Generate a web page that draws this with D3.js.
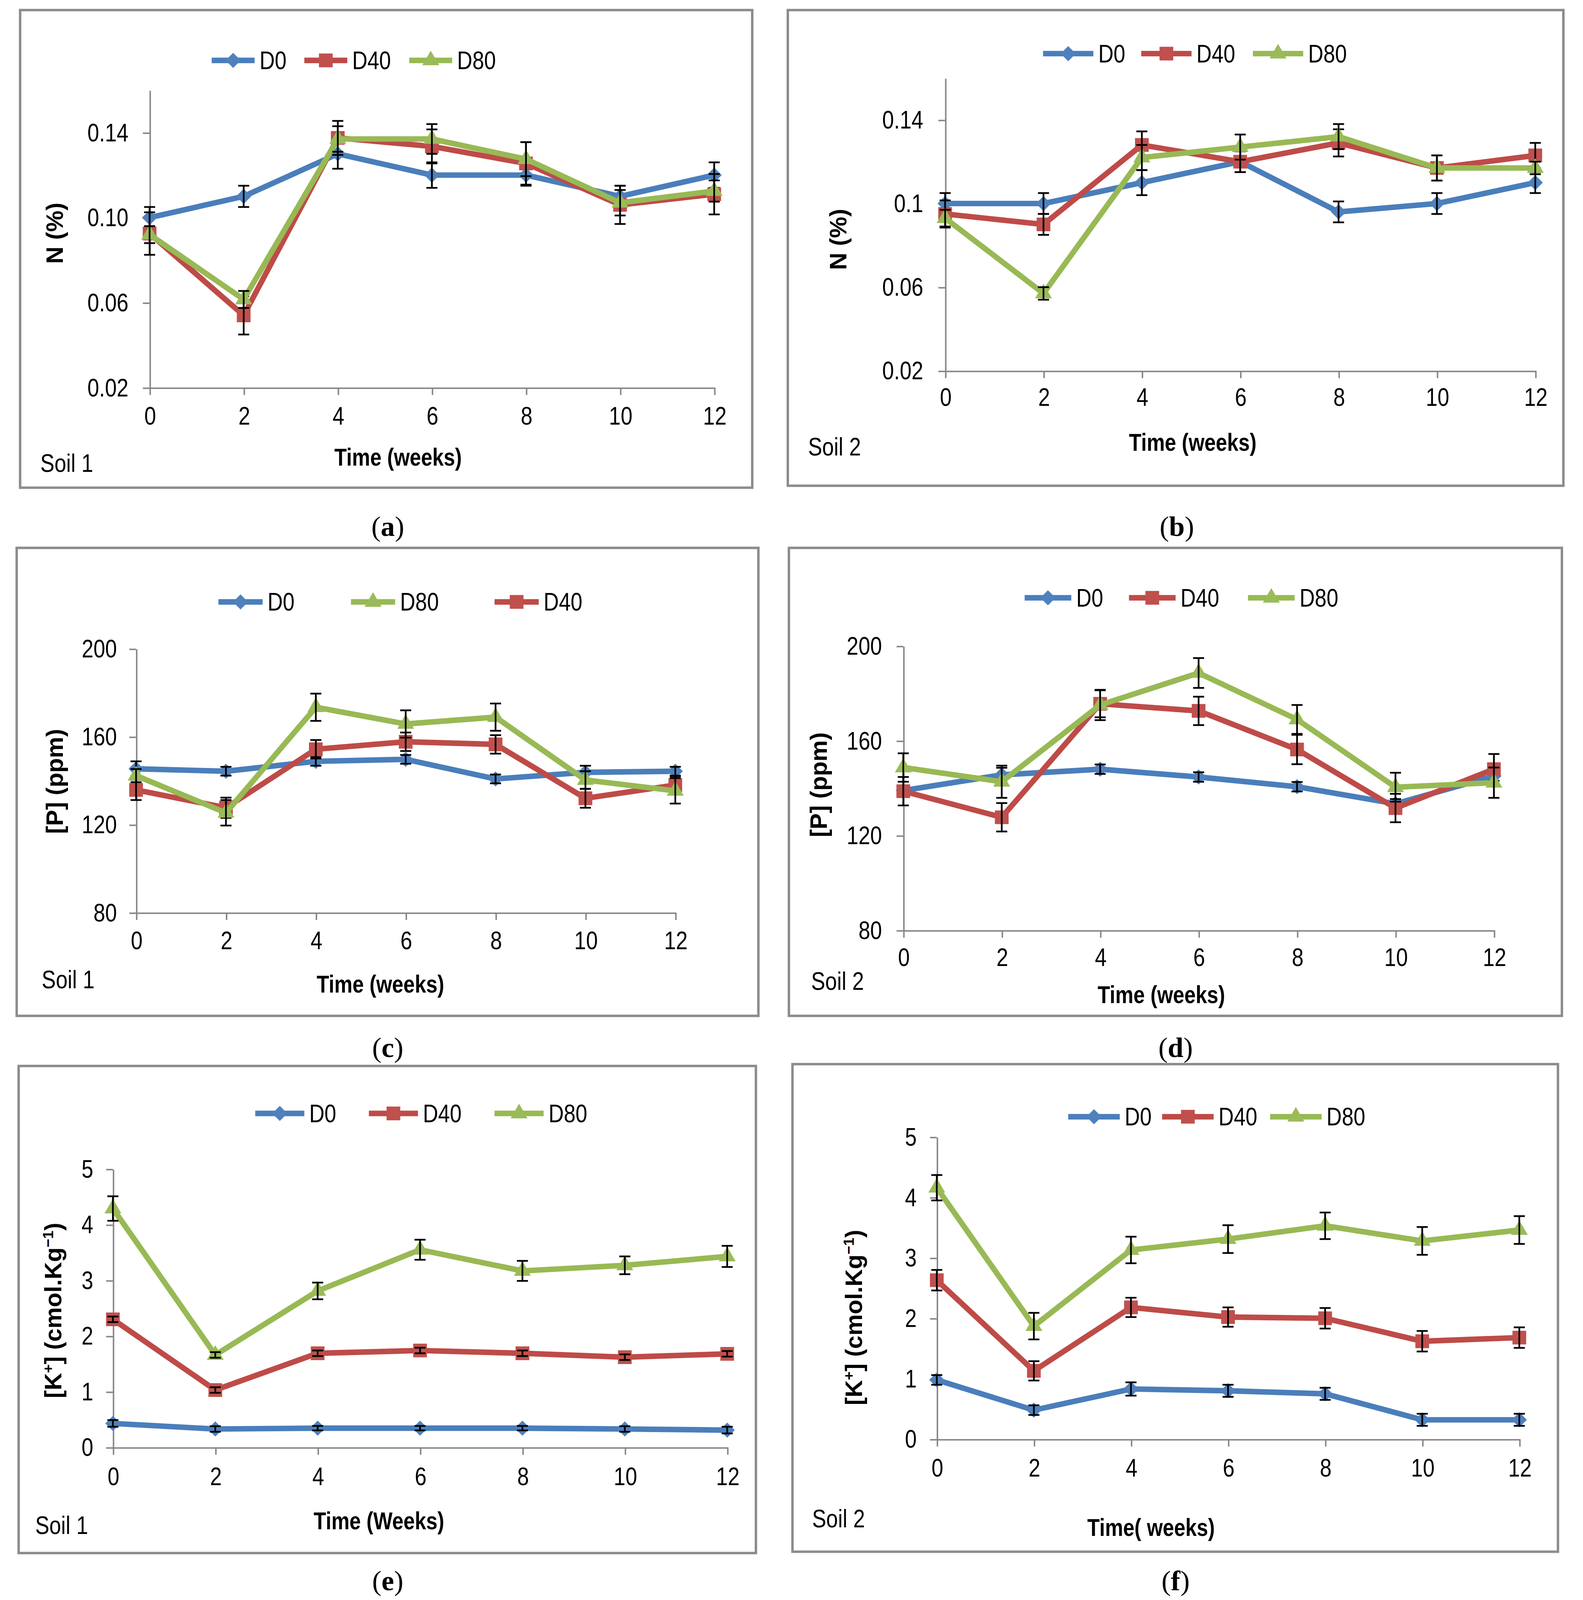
<!DOCTYPE html>
<html>
<head>
<meta charset="utf-8">
<title>N, P and K over time</title>
<script src="https://cdn.jsdelivr.net/npm/d3@7"></script>
<style>
  html, body { margin: 0; padding: 0; background: #fff; overflow: hidden; }
  svg { display: block; }
</style>
</head>
<body>
<svg id="fig"></svg>
<script>
'use strict';

// ---- data ----
var weeks = [0, 2, 4, 6, 8, 10, 12];

// (a) N, soil 1
var nS1D0 = [0.100, 0.110, 0.130, 0.120, 0.120, 0.110, 0.120];
var nS1D0Err = [0.005, 0.005, 0.007, 0.006, 0.005, 0.005, 0.006];
var nS1D40 = [0.0925, 0.054, 0.1375, 0.1335, 0.1255, 0.106, 0.111];
var nS1D40Err = [0.010, 0.009, 0.008, 0.008, 0.010, 0.009, 0.0095];
var nS1D80 = [0.092, 0.0615, 0.137, 0.137, 0.1275, 0.107, 0.1125];
var nS1D80Err = [0.004, 0.004, 0.006, 0.007, 0.008, 0.006, 0.005];

// (b) N, soil 2
var nS2D0 = [0.100, 0.100, 0.110, 0.120, 0.096, 0.100, 0.110];
var nS2D0Err = [0.005, 0.005, 0.006, 0.005, 0.005, 0.005, 0.005];
var nS2D40 = [0.095, 0.090, 0.128, 0.120, 0.129, 0.117, 0.123];
var nS2D40Err = [0.0065, 0.005, 0.0065, 0.005, 0.0065, 0.006, 0.006];
var nS2D80 = [0.093, 0.057, 0.122, 0.127, 0.132, 0.117, 0.117];
var nS2D80Err = [0.004, 0.003, 0.006, 0.006, 0.006, 0.006, 0.003];

// (c) P, soil 1
var pS1D0 = [145.4, 144.3, 148.8, 149.7, 140.8, 143.8, 144.3];
var pS1D0Err = [3.4, 2, 2, 2, 2, 3, 2];
var pS1D40 = [135.8, 127.7, 154.3, 157.7, 156.5, 132.0, 138.0];
var pS1D40Err = [4.6, 4.6, 4.2, 4.2, 4.2, 4.3, 4];
var pS1D80 = [142.3, 125.4, 173.4, 165.8, 168.9, 140.3, 135.4];
var pS1D80Err = [3, 5.8, 6.2, 6.2, 6.2, 4, 5.8];

// (d) P, soil 2
var pS2D0 = [139.0, 145.6, 148.0, 144.7, 140.6, 133.4, 145.1];
var pS2D0Err = [2, 3, 2, 2, 2, 2, 2];
var pS2D40 = [138.7, 127.7, 175.6, 172.6, 156.3, 131.6, 148.0];
var pS2D40Err = [6, 6, 5.7, 6, 6.2, 6, 6.4];
var pS2D80 = [148.7, 142.7, 175.1, 188.6, 169.0, 140.4, 142.3];
var pS2D80Err = [6, 6.8, 6.4, 6.3, 6.1, 6.1, 6.4];

// (e) K, soil 1
var kS1D0 = [0.43, 0.33, 0.345, 0.345, 0.345, 0.33, 0.31];
var kS1D0Err = [0.06, 0.05, 0.04, 0.04, 0.04, 0.05, 0.06];
var kS1D40 = [2.30, 1.03, 1.69, 1.74, 1.69, 1.62, 1.68];
var kS1D40Err = [0.05, 0.05, 0.05, 0.05, 0.05, 0.05, 0.05];
var kS1D80 = [4.29, 1.66, 2.81, 3.55, 3.17, 3.27, 3.43];
var kS1D80Err = [0.22, 0.05, 0.15, 0.18, 0.18, 0.16, 0.19];

// (f) K, soil 2
var kS2D0 = [0.98, 0.48, 0.83, 0.80, 0.75, 0.32, 0.32];
var kS2D0Err = [0.08, 0.08, 0.11, 0.10, 0.10, 0.10, 0.10];
var kS2D40 = [2.63, 1.13, 2.18, 2.02, 2.00, 1.62, 1.68];
var kS2D40Err = [0.17, 0.16, 0.16, 0.16, 0.17, 0.17, 0.17];
var kS2D80 = [4.16, 1.87, 3.13, 3.31, 3.53, 3.28, 3.46];
var kS2D80Err = [0.21, 0.22, 0.22, 0.23, 0.22, 0.23, 0.23];

// tick values and labels
var nTicks = [0.02, 0.06, 0.10, 0.14];
var nTickLabelsSoil1 = ['0.02', '0.06', '0.10', '0.14'];
var nTickLabelsSoil2 = ['0.02', '0.06', '0.1', '0.14'];
var pTicks = [80, 120, 160, 200];
var pTickLabels = ['80', '120', '160', '200'];
var kTicks = [0, 1, 2, 3, 4, 5];
var kTickLabels = ['0', '1', '2', '3', '4', '5'];

var legendOrder = ['D0', 'D40', 'D80'];
var legendOrderC = ['D0', 'D80', 'D40'];

// ---- styles ----
var SANS = "'Liberation Sans', Arial, sans-serif";
var SERIF = "'Liberation Serif', 'Times New Roman', serif";
var NARROW_K = 0.84;   // horizontal squeeze to mimic a narrow face
var AXIS_COLOR = '#868686';

var seriesStyle = {
  D0: { line: '#4a7ebb', fill: '#4f81bd', shape: 'diamond' },
  D40: { line: '#be4b48', fill: '#c0504d', shape: 'square' },
  D80: { line: '#98b954', fill: '#9bbb59', shape: 'triangle' }
};

//Layout is laid out on a 1290 x 1557.7 sheet; fit it to the window
var VB_W = 1290, VB_H = 1557.7;
var winW = window.innerWidth || 4053;
var winH = window.innerHeight || 4894;
var KY = Math.min(1, (VB_W * winH / winW) / VB_H);
function Y(v) { return v * KY; }

var svg = d3.select('#fig')
  .attr('width', winW)
  .attr('height', Math.floor(winW * VB_H * KY / VB_W))
  .attr('viewBox', '0 0 ' + VB_W + ' ' + (VB_H * KY));

function markerPath(shape) {
  if (shape === 'square') return d3.symbol().type(d3.symbolSquare).size(125)();
  if (shape === 'triangle') return d3.symbol().type(d3.symbolTriangle).size(82)();
  return d3.symbol().type(d3.symbolSquare).size(76)();
}

//squeeze texts horizontally around their own x position
function narrow(sel, k) {
  sel.each(function () {
    var t = d3.select(this);
    var x = +t.attr('x') || 0;
    t.attr('x', x / k).attr('transform', 'scale(' + k + ',1)');
  });
}

function drawPanel(p) {
  var g = svg.append('g');

  //Frame
  g.append('rect')
    .attr('x', p.frame[0]).attr('y', Y(p.frame[1]))
    .attr('width', p.frame[2] - p.frame[0]).attr('height', Y(p.frame[3] - p.frame[1]))
    .attr('fill', '#fff').attr('stroke', '#8c8c8c').attr('stroke-width', 2);

  //Scales
  var xScale = d3.scaleLinear().domain([0, 12]).range([p.x0, p.x1]);
  var yScale = d3.scaleLinear().domain(p.yDomain).range([Y(p.yBot), Y(p.yTop)]);

  //Y axis
  var yAxis = g.append('g').attr('transform', 'translate(' + p.x0 + ',0)')
    .call(d3.axisLeft(yScale).tickValues(p.yTicks)
      .tickFormat(function (d, i) { return p.yLabels[i]; })
      .tickSizeInner(5.5).tickSizeOuter(0).tickPadding(p.yPad));
  yAxis.selectAll('text').attr('font-family', SANS).attr('font-size', 20.5).attr('fill', '#000')
    .call(narrow, NARROW_K);

  //X axis
  var xAxis = g.append('g').attr('transform', 'translate(0,' + Y(p.yBot) + ')')
    .call(d3.axisBottom(xScale).tickValues(weeks).tickSizeInner(6).tickSizeOuter(0));
  xAxis.selectAll('text').attr('y', Y(p.xLabelY - p.yBot)).attr('dy', '0.35em')
    .attr('font-family', SANS).attr('font-size', 20.5).attr('fill', '#000')
    .call(narrow, NARROW_K);

  g.selectAll('.domain, .tick line').attr('stroke', AXIS_COLOR).attr('stroke-width', 1.2);

  //Series: line, markers, error bars
  p.series.forEach(function (s) {
    var st = seriesStyle[s.name];
    var pts = weeks.map(function (w, i) { return { w: w, v: s.values[i], e: s.err[i] }; });
    var sg = g.append('g');

    sg.append('path').datum(pts)
      .attr('d', d3.line().x(function (d) { return xScale(d.w); }).y(function (d) { return yScale(d.v); }))
      .attr('fill', 'none').attr('stroke', st.line).attr('stroke-width', 4.5)
      .attr('stroke-linejoin', 'round');

    sg.selectAll('path.marker').data(pts).enter().append('path').classed('marker', true)
      .attr('d', markerPath(st.shape))
      .attr('transform', function (d) {
        return 'translate(' + xScale(d.w) + ',' + yScale(d.v) + ')' + (st.shape === 'diamond' ? ' rotate(45)' : '');
      })
      .attr('fill', st.fill);

    var eb = sg.selectAll('g.err').data(pts).enter().append('g').classed('err', true)
      .attr('stroke', '#000').attr('stroke-width', 1.4);
    eb.append('line')
      .attr('x1', function (d) { return xScale(d.w); }).attr('x2', function (d) { return xScale(d.w); })
      .attr('y1', function (d) { return yScale(d.v - d.e); }).attr('y2', function (d) { return yScale(d.v + d.e); });
    [-1, 1].forEach(function (sign) {
      eb.append('line')
        .attr('x1', function (d) { return xScale(d.w) - 4.5; }).attr('x2', function (d) { return xScale(d.w) + 4.5; })
        .attr('y1', function (d) { return yScale(d.v + sign * d.e); }).attr('y2', function (d) { return yScale(d.v + sign * d.e); });
    });
  });

  //Legend
  p.legendOrder.forEach(function (name, i) {
    var st = seriesStyle[name];
    var lx = p.legendX[i];
    var ly = Y(p.legendY);
    g.append('line').attr('x1', lx).attr('x2', lx + p.legendLen)
      .attr('y1', ly).attr('y2', ly)
      .attr('stroke', st.line).attr('stroke-width', 4.5);
    g.append('path').attr('d', markerPath(st.shape))
      .attr('transform', 'translate(' + (lx + p.legendLen / 2) + ',' + ly + ')' + (st.shape === 'diamond' ? ' rotate(45)' : ''))
      .attr('fill', st.fill);
    g.append('text').attr('x', lx + p.legendLen + 4).attr('y', ly).attr('dy', '0.35em')
      .attr('font-family', SANS).attr('font-size', 20.5).text(name)
      .call(narrow, NARROW_K);
  });

  //Axis titles
  g.append('text').attr('x', p.xTitle[0]).attr('y', Y(p.xTitle[1])).attr('dy', '0.35em')
    .attr('text-anchor', 'middle').attr('font-family', SANS).attr('font-weight', 'bold')
    .attr('font-size', 20).text(p.xTitleText)
    .call(narrow, 0.83);

  var yt = g.append('text')
    .attr('transform', 'translate(' + p.yTitle[0] + ',' + Y(p.yTitle[1]) + ') rotate(-90)')
    .attr('dy', '0.35em').attr('text-anchor', 'middle')
    .attr('font-family', SANS).attr('font-weight', 'bold').attr('font-size', 19.5);
  p.yTitleParts.forEach(function (part) {
    var t = yt.append('tspan').text(part[0]);
    if (part[1]) t.attr('baseline-shift', 'super').attr('font-size', 12);
  });

  g.append('text').attr('x', p.soil[0]).attr('y', Y(p.soil[1])).attr('dy', '0.35em')
    .attr('font-family', SANS).attr('font-size', 20.5).text(p.soilText)
    .call(narrow, NARROW_K);

  //Caption, kept clear of the bottom edge
  var capY = Math.min(Y(p.caption[1]), VB_H * KY - 16);
  var cap = svg.append('text').attr('x', p.caption[0]).attr('y', capY).attr('dy', '0.35em')
    .attr('text-anchor', 'middle').attr('font-family', SERIF).attr('font-size', 23);
  cap.append('tspan').text('(');
  cap.append('tspan').attr('font-weight', 'bold').text(p.id);
  cap.append('tspan').text(')');
}

function mk(name, values, err) { return { name: name, values: values, err: err }; }

var nTitle = [['N (%)']];
var pTitle = [['[P] (ppm)']];
var kTitle = [['[K'], ['+', true], ['] (cmol.Kg'], ['\u22121', true], [')']];

var panels = [
  { id: 'a', frame: [16.4, 9.8, 613, 474.8], x0: 121.9, x1: 582, yBot: 377.4, yTop: 87.7,
    yDomain: [0.02, 0.16], yTicks: nTicks, yLabels: nTickLabelsSoil1, yPad: 11.7, xLabelY: 405,
    series: [mk('D0', nS1D0, nS1D0Err), mk('D40', nS1D40, nS1D40Err), mk('D80', nS1D80, nS1D80Err)],
    legendOrder: legendOrder, legendX: [172.5, 248, 333.5], legendLen: 35, legendY: 58.8,
    xTitle: [324.4, 445], xTitleText: 'Time (weeks)', yTitle: [44.3, 227], yTitleParts: nTitle,
    soil: [32.9, 451], soilText: 'Soil 1', caption: [316, 512] },
  { id: 'b', frame: [642, 9.8, 1274, 472.9], x0: 770.2, x1: 1251.1, yBot: 361, yTop: 76,
    yDomain: [0.02, 0.16], yTicks: nTicks, yLabels: nTickLabelsSoil2, yPad: 12.3, xLabelY: 386.4,
    series: [mk('D0', nS2D0, nS2D0Err), mk('D40', nS2D40, nS2D40Err), mk('D80', nS2D80, nS2D80Err)],
    legendOrder: legendOrder, legendX: [850, 930, 1021], legendLen: 41, legendY: 52.2,
    xTitle: [972, 430.4], xTitleText: 'Time (weeks)', yTitle: [682.9, 233], yTitleParts: nTitle,
    soil: [658.5, 435], soilText: 'Soil 2', caption: [959, 512] },
  { id: 'c', frame: [13.6, 533.4, 618, 989], x0: 110.9, x1: 550.3, yBot: 888.5, yTop: 631.6,
    yDomain: [80, 200], yTicks: pTicks, yLabels: pTickLabels, yPad: 10.1, xLabelY: 915.6,
    series: [mk('D0', pS1D0, pS1D0Err), mk('D40', pS1D40, pS1D40Err), mk('D80', pS1D80, pS1D80Err)],
    legendOrder: legendOrderC, legendX: [178, 286, 403], legendLen: 36, legendY: 586,
    xTitle: [310, 958], xTitleText: 'Time (weeks)', yTitle: [44.3, 760.7], yTitleParts: pTitle,
    soil: [34, 953.5], soilText: 'Soil 1', caption: [316, 1019.5] },
  { id: 'd', frame: [642.9, 533.4, 1272.8, 989], x0: 736.1, x1: 1217.4, yBot: 905.7, yTop: 628.9,
    yDomain: [80, 200], yTicks: pTicks, yLabels: pTickLabels, yPad: 11.9, xLabelY: 931.9,
    series: [mk('D0', pS2D0, pS2D0Err), mk('D40', pS2D40, pS2D40Err), mk('D80', pS2D80, pS2D80Err)],
    legendOrder: legendOrder, legendX: [835, 920, 1017], legendLen: 38, legendY: 582,
    xTitle: [946.4, 968.3], xTitleText: 'Time (weeks)', yTitle: [666.9, 764], yTitleParts: pTitle,
    soil: [661, 955], soilText: 'Soil 2', caption: [958, 1019.5] },
  { id: 'e', frame: [15.2, 1037.8, 616, 1512], x0: 92, x1: 592.6, yBot: 1409.1, yTop: 1138.1,
    yDomain: [0, 5], yTicks: kTicks, yLabels: kTickLabels, yPad: 10.5, xLabelY: 1437.3,
    series: [mk('D0', kS1D0, kS1D0Err), mk('D40', kS1D40, kS1D40Err), mk('D80', kS1D80, kS1D80Err)],
    legendOrder: legendOrder, legendX: [208, 300.6, 403], legendLen: 40, legendY: 1084,
    xTitle: [308.8, 1480.5], xTitleText: 'Time (Weeks)', yTitle: [43.1, 1275.8], yTitleParts: kTitle,
    soil: [28.7, 1484.9], soilText: 'Soil 1', caption: [316, 1542.7] },
  { id: 'f', frame: [645.8, 1036, 1269.6, 1510.7], x0: 763.4, x1: 1238.1, yBot: 1401.1, yTop: 1106.9,
    yDomain: [0, 5], yTicks: kTicks, yLabels: kTickLabels, yPad: 10.9, xLabelY: 1429.1,
    series: [mk('D0', kS2D0, kS2D0Err), mk('D40', kS2D40, kS2D40Err), mk('D80', kS2D80, kS2D80Err)],
    legendOrder: legendOrder, legendX: [870.5, 947, 1035], legendLen: 42, legendY: 1087.2,
    xTitle: [938, 1486.9], xTitleText: 'Time( weeks)', yTitle: [695.6, 1282.7], yTitleParts: kTitle,
    soil: [661.8, 1478.4], soilText: 'Soil 2', caption: [958, 1542.7] }
];

panels.forEach(drawPanel);
</script>
</body>
</html>
